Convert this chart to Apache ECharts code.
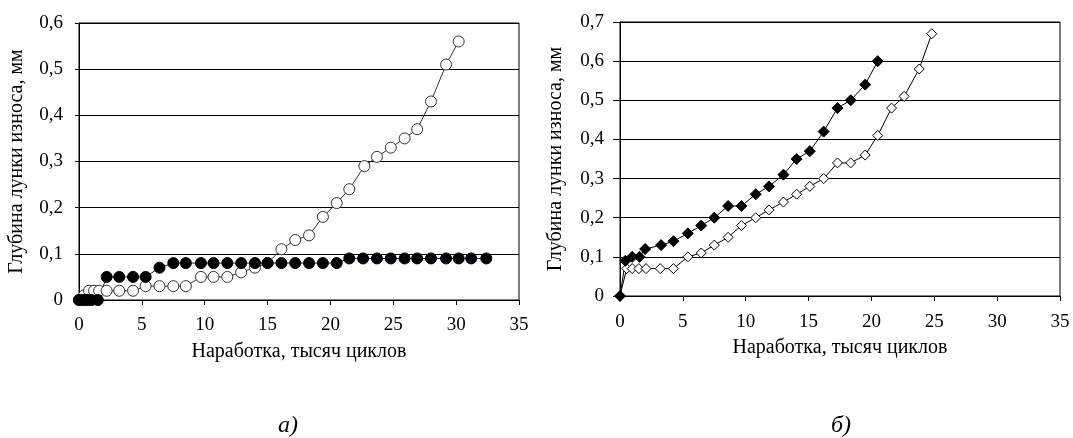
<!DOCTYPE html>
<html><head><meta charset="utf-8">
<script src="https://cdn.jsdelivr.net/npm/echarts@6/dist/echarts.min.js"></script>
<style>html,body{margin:0;padding:0;background:#fff}#c{width:1073px;height:438px}</style>
</head><body><div id="c"></div>
<script>
// Chart (a): open circles
const aOpenX = [0, 0.4, 0.8, 1.2, 1.6, 2.2, 3.2, 4.3, 5.3, 6.4, 7.5, 8.5, 9.7, 10.7, 11.8, 12.9, 14.0, 15.0, 16.1, 17.2, 18.3, 19.4, 20.5, 21.5, 22.7, 23.7, 24.8, 25.9, 26.9, 28.0, 29.2, 30.2];
const aOpenY = [0, 0.01, 0.02, 0.02, 0.02, 0.02, 0.02, 0.02, 0.03, 0.03, 0.03, 0.03, 0.05, 0.05, 0.05, 0.06, 0.07, 0.08, 0.11, 0.13, 0.14, 0.18, 0.21, 0.24, 0.29, 0.31, 0.33, 0.35, 0.37, 0.43, 0.51, 0.56];
// Chart (a): filled circles
const aFillX = [0, 0.2, 0.5, 0.7, 1.0, 1.5, 2.2, 3.2, 4.3, 5.3, 6.4, 7.5, 8.5, 9.7, 10.7, 11.8, 12.9, 14.0, 15.0, 16.1, 17.2, 18.3, 19.4, 20.5, 21.5, 22.6, 23.7, 24.8, 25.9, 26.9, 28.0, 29.2, 30.2, 31.2, 32.4];
const aFillY = [0, 0, 0, 0, 0, 0, 0.05, 0.05, 0.05, 0.05, 0.07, 0.08, 0.08, 0.08, 0.08, 0.08, 0.08, 0.08, 0.08, 0.08, 0.08, 0.08, 0.08, 0.08, 0.09, 0.09, 0.09, 0.09, 0.09, 0.09, 0.09, 0.09, 0.09, 0.09, 0.09];
// Chart (b): filled diamonds
const bFillX = [0, 0.43, 0.97, 1.55, 2.0, 3.27, 4.25, 5.4, 6.46, 7.5, 8.6, 9.66, 10.8, 11.85, 13.0, 14.05, 15.1, 16.2, 17.3, 18.35, 19.5, 20.5];
const bFillY = [0, 0.09, 0.10, 0.10, 0.12, 0.13, 0.14, 0.16, 0.18, 0.20, 0.23, 0.23, 0.26, 0.28, 0.31, 0.35, 0.37, 0.42, 0.48, 0.50, 0.54, 0.60];
// Chart (b): open diamonds
const bOpenX = [0, 0.53, 0.97, 1.5, 2.07, 3.2, 4.25, 5.4, 6.46, 7.5, 8.6, 9.66, 10.8, 11.85, 13.0, 14.05, 15.1, 16.2, 17.3, 18.35, 19.5, 20.5, 21.6, 22.6, 23.8, 24.8];
const bOpenY = [0, 0.07, 0.07, 0.07, 0.07, 0.07, 0.07, 0.10, 0.11, 0.13, 0.15, 0.18, 0.20, 0.22, 0.24, 0.26, 0.28, 0.30, 0.34, 0.34, 0.36, 0.41, 0.48, 0.51, 0.58, 0.67];

const xTitle = 'Наработка, тысяч циклов';
const yTitle = 'Глубина лунки износа, мм';
const captions = ['а)', 'б)'];

const zip = (xs, ys) => xs.map((x, i) => [x, ys[i]]);
const FONT = '"Liberation Serif", "DejaVu Serif", serif';
const fmt = v => v === 0 ? '0' : v.toFixed(1).replace('.', ',');

function xAxis(gi, margin) {
  return {
    gridIndex: gi, type: 'value', min: 0, max: 35, interval: 5,
    name: xTitle, nameLocation: 'middle', nameGap: 42,
    nameTextStyle: { fontFamily: FONT, fontSize: 20, color: '#000' },
    axisLine: { show: true, onZero: false, lineStyle: { color: '#000', width: 1 } },
    axisTick: { show: true, inside: false, length: 5, lineStyle: { color: '#000' } },
    axisLabel: { fontFamily: FONT, fontSize: 19, color: '#000', margin: margin },
    splitLine: { show: false }
  };
}
function yAxis(gi, max, tick, gap) {
  return {
    gridIndex: gi, type: 'value', min: 0, max: max, interval: 0.1,
    name: yTitle, nameLocation: 'middle', nameGap: gap, nameRotate: 90,
    nameTextStyle: { fontFamily: FONT, fontSize: 20, color: '#000' },
    axisLine: { show: true, lineStyle: { color: '#000', width: 1 } },
    axisTick: { show: true, inside: false, length: tick, lineStyle: { color: '#000' } },
    axisLabel: { fontFamily: FONT, fontSize: 19, color: '#000', margin: 16, formatter: fmt },
    splitLine: { show: true, lineStyle: { color: '#000', width: 1 } }
  };
}

const chart = echarts.init(document.getElementById('c'), null, { renderer: 'canvas' });
chart.setOption({
  animation: false,
  backgroundColor: '#fff',
  title: [
    { text: captions[0], left: 273, top: 409, textStyle: { fontFamily: FONT, fontSize: 24, fontStyle: 'italic', fontWeight: 'normal', color: '#000' } },
    { text: captions[1], left: 826, top: 409, textStyle: { fontFamily: FONT, fontSize: 24, fontStyle: 'italic', fontWeight: 'normal', color: '#000' } }
  ],
  grid: [
    { left: 79, top: 23, width: 440, height: 277, show: true, borderColor: '#000', borderWidth: 1, backgroundColor: 'transparent' },
    { left: 620, top: 22, width: 440, height: 274, show: true, borderColor: '#000', borderWidth: 1, backgroundColor: 'transparent' }
  ],
  xAxis: [xAxis(0, 16), xAxis(1, 17)],
  yAxis: [yAxis(0, 0.6, 4, 52), yAxis(1, 0.7, 7, 54)],
  series: [
    { type: 'line', xAxisIndex: 0, yAxisIndex: 0, data: zip(aOpenX, aOpenY),
      symbol: 'circle', symbolSize: 11, showAllSymbol: true,
      lineStyle: { color: '#333', width: 1 },
      itemStyle: { color: '#fff', borderColor: '#333', borderWidth: 1 } },
    { type: 'line', xAxisIndex: 0, yAxisIndex: 0, data: zip(aFillX, aFillY),
      symbol: 'circle', symbolSize: 11, showAllSymbol: true,
      lineStyle: { color: '#1c1c70', width: 1 },
      itemStyle: { color: '#000', borderColor: '#000', borderWidth: 1 } },
    { type: 'line', xAxisIndex: 1, yAxisIndex: 1, data: zip(bOpenX, bOpenY),
      symbol: 'diamond', symbolSize: 10, showAllSymbol: true,
      lineStyle: { color: '#000', width: 1 },
      itemStyle: { color: '#fff', borderColor: '#000', borderWidth: 1 } },
    { type: 'line', xAxisIndex: 1, yAxisIndex: 1, data: zip(bFillX, bFillY),
      symbol: 'diamond', symbolSize: 11, showAllSymbol: true,
      lineStyle: { color: '#000', width: 1 },
      itemStyle: { color: '#000', borderColor: '#000', borderWidth: 1 } }
  ]
});
</script></body></html>
